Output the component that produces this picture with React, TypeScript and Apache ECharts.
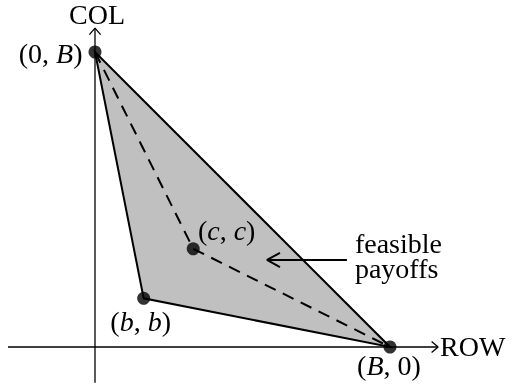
import React, { useEffect, useRef } from "react";
import * as echarts from "echarts";

// Payoff values (B normalised to 10)
const B = 10;
const b = 1.65;
const c = 3.33;

const pointValues: number[][] = [
  [0, B],
  [b, b],
  [c, c],
  [B, 0],
];
const pointLabels = ["(0, {i|B})", "({i|b}, {i|b})", "({i|c}, {i|c})", "({i|B}, 0)"];
const feasibleRegion: number[][] = [
  [0, B],
  [b, b],
  [B, 0],
];
const dashedPath: number[][] = [
  [0, B],
  [c, c],
  [B, 0],
];
const xAxisLine: number[][] = [
  [-2.95, 0],
  [11.63, 0],
];
const yAxisLine: number[][] = [
  [0, -1.21],
  [0, 10.81],
];
const axisNames = ["ROW", "COL"];
const feasibleArrow: number[][] = [
  [8.54, 2.95],
  [5.83, 2.95],
];
const feasibleText = "feasible\npayoffs";

const FONT = "Liberation Serif";
const FS = 28;
const UNIT = 29.5; // px per data unit on both axes

function chevron(tip: number[], dir: number[], back: number, half: number): number[][] {
  const [dx, dy] = dir;
  const px = -dy;
  const py = dx;
  return [
    [tip[0] - dx * back + px * half, tip[1] - dy * back + py * half],
    [tip[0], tip[1]],
    [tip[0] - dx * back - px * half, tip[1] - dy * back - py * half],
  ];
}

export default function App() {
  const ref = useRef<HTMLDivElement>(null);
  useEffect(() => {
    if (!ref.current) return;
    const chart = echarts.init(ref.current, undefined, { renderer: "svg" });

    const xTip = xAxisLine[1];
    const yTip = yAxisLine[1];
    const arrowTip = feasibleArrow[1];

    const thinLine = (data: number[][], width: number, extra: any = {}) => ({
      type: "line",
      data,
      symbol: "none",
      silent: true,
      clip: false,
      lineStyle: { color: "#000", width, ...extra },
      z: 3,
    });

    const option: any = {
      animation: false,
      grid: {
        left: 95 - 3 * UNIT,
        top: 347 - 11 * UNIT,
        width: 15 * UNIT,
        height: 12.2 * UNIT,
        containLabel: false,
      },
      xAxis: { type: "value", min: -3, max: 12, show: false },
      yAxis: { type: "value", min: -1.2, max: 11, show: false },
      series: [
        {
          type: "custom",
          silent: true,
          clip: false,
          data: [0],
          z: 1,
          renderItem: (params: any, api: any) => {
            const pts = feasibleRegion.map((p) => api.coord(p));
            return {
              type: "polygon",
              shape: { points: pts },
              style: { fill: "#c0c0c0", stroke: "#000", lineWidth: 2, lineJoin: "miter" },
            };
          },
        },
        thinLine(xAxisLine, 1.3),
        thinLine(yAxisLine, 1.3),
        thinLine(chevron(xTip, [1, 0], 0.22, 0.19), 1.3),
        thinLine(chevron(yTip, [0, 1], 0.22, 0.19), 1.3),
        thinLine(dashedPath, 2, { type: [12, 8] }),
        thinLine(feasibleArrow, 2),
        thinLine(chevron(arrowTip, [-1, 0], 0.44, 0.24), 2),
        {
          type: "scatter",
          data: pointValues,
          symbol: "circle",
          symbolSize: 13,
          itemStyle: { color: "#000" },
          silent: true,
          clip: false,
          z: 5,
        },
      ],
    };
    chart.setOption(option);

    // Labels placed at positions converted through the chart's own scales
    const labelAnchors = [...pointValues, xTip, yTip, feasibleArrow[0]];
    const labelTexts = [...pointLabels, axisNames[0], axisNames[1], feasibleText];
    const labelPlace: { dx: number; dy: number; align: number }[] = [
      { dx: -12.5, dy: 1.5, align: 1 },
      { dx: -3, dy: 23, align: 0.5 },
      { dx: 33.4, dy: -18, align: 0.5 },
      { dx: -1, dy: 18, align: 0.5 },
      { dx: 2, dy: -1, align: 0 },
      { dx: 2, dy: -13.5, align: 0.5 },
      { dx: 8, dy: -4, align: 0 },
    ];
    const TextCls: any = (echarts.graphic as any).Text;
    const graphics = labelAnchors.map((a, i) => {
      const p = chart.convertToPixel({ gridIndex: 0 }, a) as number[];
      const pl = labelPlace[i];
      const style: any = {
        text: labelTexts[i],
        fontFamily: FONT,
        fontSize: FS,
        fill: "#000",
      };
      if (i === 6) style.lineHeight = 25;
      if (i < 4) {
        style.rich = {
          i: { fontFamily: FONT, fontStyle: "italic", fontSize: FS, fill: "#000" },
        };
      }
      let w = 0;
      let h = FS;
      let rx = 0;
      let ry = 0;
      try {
        const r = new TextCls({ style: { ...style } }).getBoundingRect();
        w = r.width;
        h = r.height;
        rx = r.x;
        ry = r.y;
      } catch (e) {
        w = labelTexts[i].length * FS * 0.4;
      }
      const cx = p[0] + pl.dx;
      const cy = p[1] + pl.dy;
      return {
        type: "text",
        x: cx - w * pl.align - rx,
        y: cy - h / 2 - ry,
        z: 100,
        style,
      };
    });
    chart.setOption({ graphic: graphics });

    return () => chart.dispose();
  }, []);

  return <div ref={ref} style={{ position: "fixed", left: 0, top: 0, width: 514, height: 387 }} />;
}
